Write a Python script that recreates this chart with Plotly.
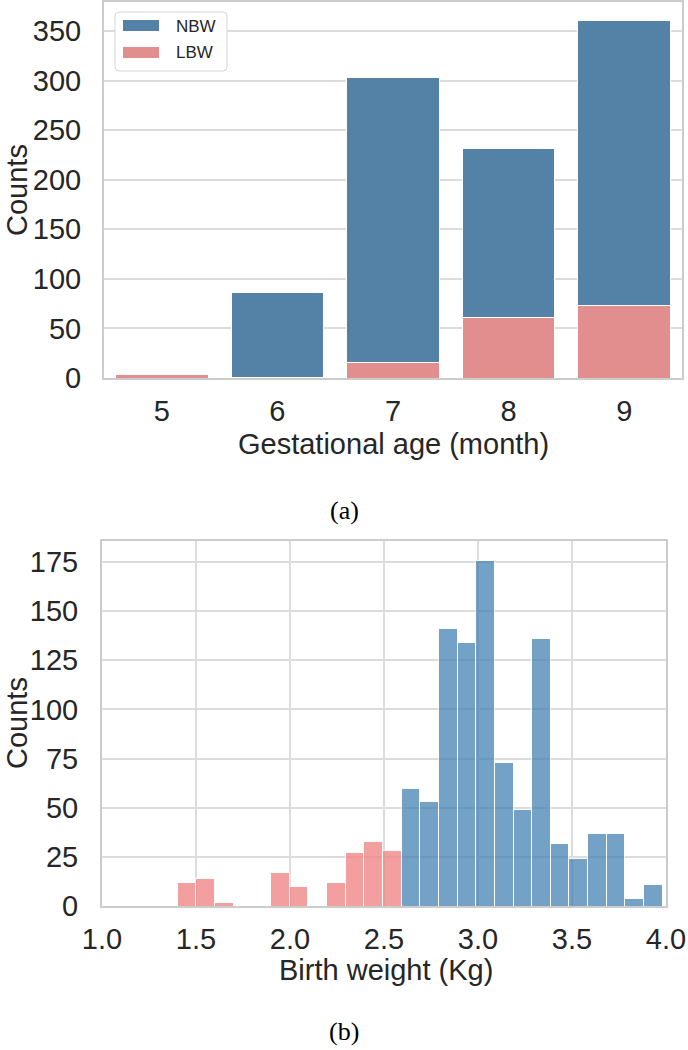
import numpy as np
import plotly.graph_objects as go

W, H = 688, 1050

# ---------------- Panel (a): counts by gestational age ----------------
months = ["5", "6", "7", "8", "9"]
lbw_by_month = [4, 1, 16, 61, 73]          # LBW counts
nbw_by_month = [0, 85, 287, 170, 288]      # NBW counts (stacked on LBW)
count_ticks_a = [0, 50, 100, 150, 200, 250, 300, 350]

# ---------------- Panel (b): birth weight histogram ----------------
bin_lo, bin_hi, n_bins = 1.40, 3.98, 26
lbw_hist = [12, 14, 2, 0, 0, 17, 10, 0.5, 12, 27, 33, 28]               # bins 0..11
nbw_hist = [60, 53, 141, 134, 176, 73, 49, 136, 32, 24, 37, 37, 4, 11]   # bins 12..25
count_ticks_b = [0, 25, 50, 75, 100, 125, 150, 175]
weight_ticks = [1.0, 1.5, 2.0, 2.5, 3.0, 3.5, 4.0]

edges = np.linspace(bin_lo, bin_hi, n_bins + 1)
centers = (edges[:-1] + edges[1:]) / 2
widths = np.diff(edges)
n_l = len(lbw_hist)

TXT = "#262626"
GRID = "#dcdcdc"
SPINE = "#cccccc"
FONT = "Liberation Sans, Arial, sans-serif"
SERIF = "Liberation Serif, Times New Roman, serif"


def px(x):
    return min(max(x / W, 0), 1)


def py(y):
    return min(max(1 - y / H, 0), 1)


fig = go.Figure()

# panel (a) bars
fig.add_trace(go.Bar(x=months, y=lbw_by_month, name="LBW",
                     marker=dict(color="#E28E8E", line=dict(color="white", width=1)),
                     xaxis="x", yaxis="y", showlegend=False))
fig.add_trace(go.Bar(x=months, y=nbw_by_month, name="NBW",
                     marker=dict(color="#5481A6", line=dict(color="white", width=1)),
                     xaxis="x", yaxis="y", showlegend=False))

# panel (b) histogram bars
fig.add_trace(go.Bar(x=centers[:n_l], y=lbw_hist, width=widths[:n_l], name="LBW",
                     marker=dict(color="#F08080", line=dict(color="white", width=1)), opacity=0.75,
                     xaxis="x2", yaxis="y2", showlegend=False))
fig.add_trace(go.Bar(x=centers[n_l:], y=nbw_hist, width=widths[n_l:], name="NBW",
                     marker=dict(color="#4682B4", line=dict(color="white", width=1)), opacity=0.75,
                     xaxis="x2", yaxis="y2", showlegend=False))

axis_common = dict(showline=True, linecolor=SPINE, linewidth=2, mirror=True, zeroline=False,
                   automargin=False, ticks="", ticklabeloverflow="allow",
                   tickfont=dict(size=29, color=TXT, family=FONT), gridcolor=GRID, gridwidth=1.5)

# pixel geometry
a_left, a_right, a_zero, a_top = 104, 682, 378, 2
a_cat = (a_right - a_left) / 5
a_ppu = (378 - 31) / 350
b_left, b_right, b_zero, b_top = 102, 666, 906, 541

fig.update_layout(
    width=W, height=H, margin=dict(l=0, r=0, t=0, b=0), template="none",
    paper_bgcolor="white", plot_bgcolor="white",
    barmode="stack", bargap=0.2,
    font=dict(family=FONT, color=TXT),
    xaxis=dict(domain=[px(a_left), px(a_right)], anchor="y", type="category",
               range=[-0.5, -0.5 + (a_right - a_left) / a_cat],
               showgrid=False, ticklabelstandoff=6, **axis_common),
    yaxis=dict(domain=[py(a_zero), py(a_top)], anchor="x", range=[0, (a_zero - a_top) / a_ppu],
               tickvals=count_ticks_a, showgrid=True, ticklabelstandoff=15, **axis_common),
    xaxis2=dict(domain=[px(b_left), px(b_right)], anchor="y2", range=[1.0, 4.0], tickvals=weight_ticks,
                tickformat=".1f", showgrid=True, ticklabelstandoff=6, **axis_common),
    yaxis2=dict(domain=[py(b_zero), py(b_top)], anchor="x2", range=[0, 185.7], tickvals=count_ticks_b,
                showgrid=True, ticklabelstandoff=16, **axis_common),
)

# custom legend for panel (a)
x0, x1, y0, y1, r = 115, 227, 12, 71, 4
path = (f"M {px(x0 + r)},{py(y0)} L {px(x1 - r)},{py(y0)} Q {px(x1)},{py(y0)} {px(x1)},{py(y0 + r)} "
        f"L {px(x1)},{py(y1 - r)} Q {px(x1)},{py(y1)} {px(x1 - r)},{py(y1)} "
        f"L {px(x0 + r)},{py(y1)} Q {px(x0)},{py(y1)} {px(x0)},{py(y1 - r)} "
        f"L {px(x0)},{py(y0 + r)} Q {px(x0)},{py(y0)} {px(x0 + r)},{py(y0)} Z")
shapes = [
    dict(type="path", xref="paper", yref="paper", path=path, line=dict(color="#d5d5d5", width=1),
         fillcolor="white", layer="above"),
    dict(type="rect", xref="paper", yref="paper", x0=px(123), x1=px(159), y0=py(31), y1=py(20),
         fillcolor="#5481A6", line=dict(width=0), layer="above"),
    dict(type="rect", xref="paper", yref="paper", x0=px(123), x1=px(159), y0=py(58), y1=py(47),
         fillcolor="#E28E8E", line=dict(width=0), layer="above"),
]
fig.update_layout(shapes=shapes)

ann = [
    dict(text="NBW", x=px(174), y=py(26), xanchor="left", yanchor="middle", font=dict(size=17, color=TXT)),
    dict(text="LBW", x=px(174), y=py(53), xanchor="left", yanchor="middle", font=dict(size=17, color=TXT)),
    dict(text="Gestational age (month)", x=px(393), y=py(444), xanchor="center", yanchor="middle",
         font=dict(size=29, color=TXT)),
    dict(text="Counts", x=px(17), y=py(190), xanchor="center", yanchor="middle", textangle=-90,
         font=dict(size=29, color=TXT)),
    dict(text="(a)", x=px(344), y=py(510), xanchor="center", yanchor="middle",
         font=dict(size=26, color="black", family=SERIF)),
    dict(text="Birth weight (Kg)", x=px(386), y=py(970), xanchor="center", yanchor="middle",
         font=dict(size=29, color=TXT)),
    dict(text="Counts", x=px(17), y=py(723), xanchor="center", yanchor="middle", textangle=-90,
         font=dict(size=29, color=TXT)),
    dict(text="(b)", x=px(344), y=py(1031), xanchor="center", yanchor="middle",
         font=dict(size=26, color="black", family=SERIF)),
]
for a in ann:
    a.update(xref="paper", yref="paper", showarrow=False)
fig.update_layout(annotations=ann)

fig.write_html("out.html", config={"displayModeBar": False},
               post_script="document.body.style.margin='0px';document.body.style.overflow='hidden';")
